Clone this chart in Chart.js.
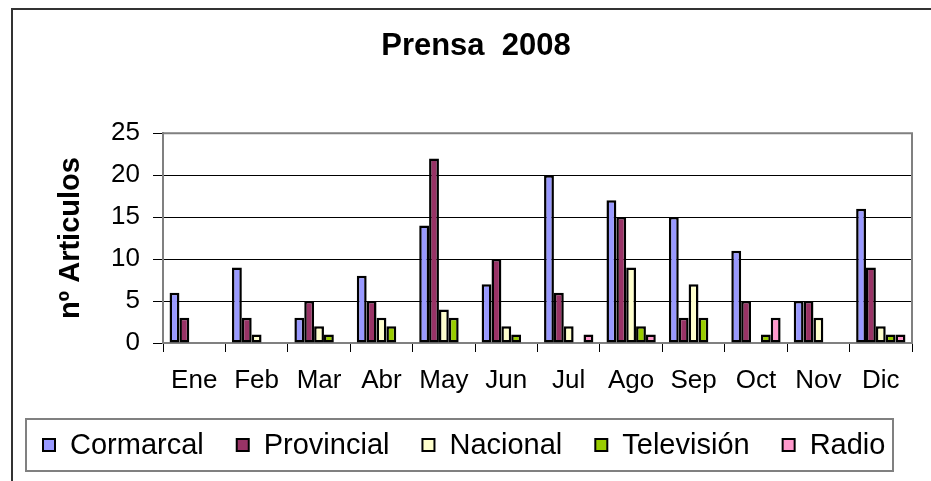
<!DOCTYPE html>
<html lang="es">
<head>
<meta charset="UTF-8">
<title>Prensa 2008</title>
<script src="https://cdn.jsdelivr.net/npm/chart.js@4.4.1/dist/chart.umd.min.js"></script>
<style>
  body { margin: 0; background: #fff; }
  canvas { display: block; }
</style>
</head>
<body>
<canvas id="chart" width="931" height="481"></canvas>
<script>
// artículos de prensa por mes y ámbito, 2008
const meses = ["Ene", "Feb", "Mar", "Abr", "May", "Jun", "Jul", "Ago", "Sep", "Oct", "Nov", "Dic"];
const comarcal    = [6, 9, 3, 8, 14, 7, 20, 17, 15, 11, 5, 16];
const provincial  = [3, 3, 5, 5, 22, 10, 6, 15, 3, 5, 5, 9];
const nacional    = [0, 1, 2, 3, 4, 2, 2, 9, 7, 0, 3, 2];
const television  = [0, 0, 1, 2, 3, 1, 0, 2, 3, 1, 0, 1];
const radio       = [0, 0, 0, 0, 0, 0, 1, 1, 0, 3, 0, 1];
const yTicks = [0, 5, 10, 15, 20, 25];

const FONT = "Arial, 'Liberation Sans', sans-serif";

function serie(label, data, color) {
  return {
    label: label,
    data: data,
    backgroundColor: color,
    borderColor: "#000",
    borderWidth: 2.5,
    borderSkipped: false,
    categoryPercentage: 0.79,
    barPercentage: 1.0
  };
}

// marco exterior del gráfico y borde gris del área de trazado
const marco = {
  id: "marco",
  beforeDraw(chart) {
    const ctx = chart.ctx;
    ctx.save();
    ctx.fillStyle = "#fff";
    ctx.fillRect(0, 0, chart.width, chart.height);
    ctx.strokeStyle = "#333";
    ctx.lineWidth = 2;
    ctx.strokeRect(12, 9, chart.width + 20, chart.height + 20);
    ctx.restore();
  },
  afterDatasetsDraw(chart) {
    const a = chart.chartArea;
    const ctx = chart.ctx;
    ctx.save();
    ctx.strokeStyle = "#808080";
    ctx.lineWidth = 2;
    ctx.beginPath();
    ctx.moveTo(a.left, a.top);
    ctx.lineTo(a.right, a.top);
    ctx.lineTo(a.right, a.bottom);
    ctx.stroke();
    ctx.restore();
  }
};

// leyenda con recuadro, alineada como en Excel
const leyenda = {
  id: "leyenda",
  afterDraw(chart) {
    const ctx = chart.ctx;
    const top = 419, h = 52;
    ctx.save();
    ctx.strokeStyle = "#808080";
    ctx.lineWidth = 2;
    ctx.strokeRect(26, top, 867, h);
    ctx.font = "29px " + FONT;
    ctx.textBaseline = "middle";
    ctx.textAlign = "left";
    let x = 43;
    const cy = top + h / 2;
    chart.data.datasets.forEach(ds => {
      ctx.fillStyle = ds.backgroundColor;
      ctx.fillRect(x, cy - 6, 12, 12);
      ctx.strokeStyle = "#000";
      ctx.lineWidth = 2;
      ctx.strokeRect(x, cy - 6, 12, 12);
      ctx.fillStyle = "#000";
      ctx.fillText(ds.label, x + 27, cy + 1);
      x += 27 + ctx.measureText(ds.label).width + 33;
    });
    ctx.restore();
  }
};

const ctx = document.getElementById("chart").getContext("2d");
new Chart(ctx, {
  type: "bar",
  data: {
    labels: meses,
    datasets: [
      serie("Cormarcal", comarcal, "#9999FF"),
      serie("Provincial", provincial, "#993366"),
      serie("Nacional", nacional, "#FFFFCC"),
      serie("Televisión", television, "#99CC00"),
      serie("Radio", radio, "#FF99CC")
    ]
  },
  options: {
    responsive: false,
    animation: false,
    layout: { padding: { left: 40, right: 19, top: 0, bottom: 78 } },
    plugins: {
      legend: { display: false },
      tooltip: { enabled: false },
      title: {
        display: true,
        text: "Prensa  2008",
        color: "#000",
        font: { family: FONT, size: 31, weight: "bold" },
        padding: { top: 28, bottom: 68 }
      }
    },
    scales: {
      x: {
        grid: {
          drawOnChartArea: false,
          drawTicks: true,
          tickLength: 9,
          tickColor: "#000",
          color: "#000"
        },
        border: { color: "#808080", width: 2 },
        ticks: {
          color: "#000",
          padding: 13,
          font: { family: FONT, size: 26 }
        },
        afterFit(scale) { scale.height = 60; }
      },
      y: {
        min: 0,
        max: 25,
        afterBuildTicks(scale) { scale.ticks = yTicks.map(v => ({ value: v })); },
        grid: {
          color: c => (c.tick && (c.tick.value === 0 || c.tick.value === 25)) ? "#808080" : "#000",
          lineWidth: 1,
          tickLength: 10,
          tickColor: "#000"
        },
        border: { color: "#808080", width: 2 },
        ticks: {
          color: "#000",
          padding: 13,
          font: { family: FONT, size: 26 }
        },
        title: {
          display: true,
          text: "nº Articulos",
          color: "#000",
          font: { family: FONT, size: 29, weight: "bold" },
          padding: { top: 14, bottom: 0 }
        },
        afterFit(scale) { scale.width = 123; }
      }
    }
  },
  plugins: [marco, leyenda]
});
</script>
</body>
</html>
